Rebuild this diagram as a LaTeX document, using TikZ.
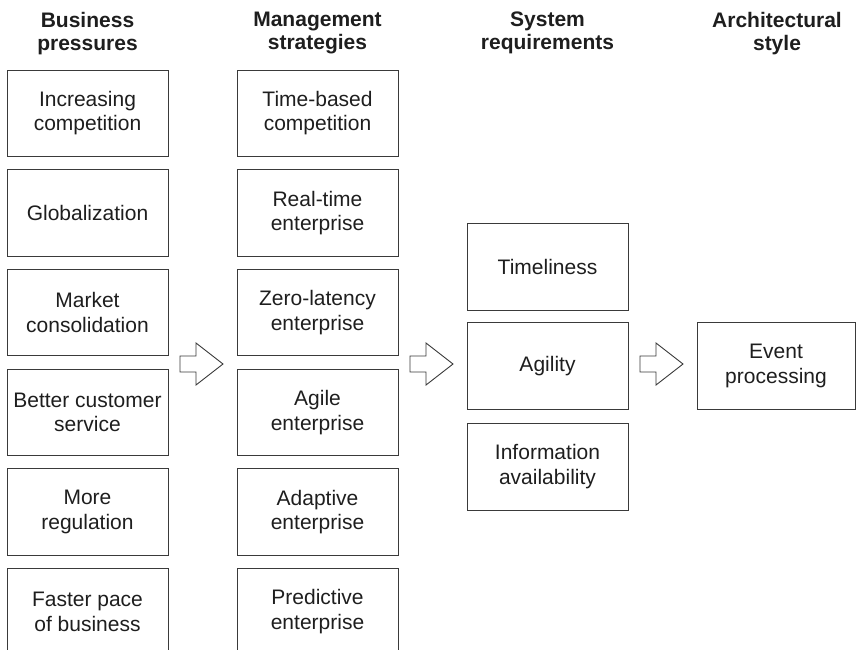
\documentclass[tikz,border=0pt]{standalone}
\usepackage{fontspec}
\setmainfont{Liberation Sans}
\definecolor{lin}{HTML}{3A3A3A}
\definecolor{txt}{HTML}{1E1E1E}
\tikzset{
  box/.style={draw=lin, line width=1pt, rectangle, minimum width=161pt, minimum height=86.5pt,
    align=center, inner sep=0pt, text=txt, font=\fontsize{21}{24.5}\selectfont},
  head/.style={anchor=north, inner sep=0pt, align=center, text=txt,
    font=\fontsize{21}{23}\selectfont\bfseries},
  barrow/.style={draw=lin, line width=0.9pt, fill=white, line join=miter}
}
\begin{document}
\begin{tikzpicture}[x=1pt,y=-1pt]
\useasboundingbox (0,0) rectangle (856,649);
\clip (0,0) rectangle (856,649);
% headers
\node[head] (h1) at (87.5,12) {Business\\pressures};
\node[head] (h2) at (317.5,12) {Management\\strategies};
\node[head] (h3) at (547.5,12) {System\\requirements};
\node[head] (h4) at (777,12) {Architectural\\style};
% column 1
\node[box] (b1) at (87.5,113.25) {Increasing\\competition};
\node[box] (b2) at (87.5,212.95) {Globalization};
\node[box] (b3) at (87.5,312.65) {Market\\consolidation};
\node[box] (b4) at (87.5,412.35) {Better customer\\service};
\node[box] (b5) at (87.5,512.05) {More\\regulation};
\node[box] (b6) at (87.5,611.75) {Faster pace\\of business};
% column 2
\node[box] (m1) at (317.5,113.25) {Time-based\\competition};
\node[box] (m2) at (317.5,212.95) {Real-time\\enterprise};
\node[box] (m3) at (317.5,312.65) {Zero-latency\\enterprise};
\node[box] (m4) at (317.5,412.35) {Agile\\enterprise};
\node[box] (m5) at (317.5,512.05) {Adaptive\\enterprise};
\node[box] (m6) at (317.5,611.75) {Predictive\\enterprise};
% column 3
\node[box, minimum height=87pt] (s1) at (547.5,266.5) {Timeliness};
\node[box, minimum height=87pt] (s2) at (547.5,366) {Agility};
\node[box, minimum height=87pt] (s3) at (547.5,466.5) {Information\\availability};
% column 4
\node[box, minimum width=158pt] (e1) at (776,366) {Event\\processing};
% block arrows
\coordinate (a1) at (180,364);
\coordinate (a2) at (410,364);
\coordinate (a3) at (640,364);
\foreach \a in {a1,a2,a3}{
  \draw[barrow] (\a) ++(0,-8) -- ++(16,0) -- ++(0,-13) -- ++(27,21) -- ++(-27,21) -- ++(0,-13) -- ++(-16,0) -- cycle;
}
\end{tikzpicture}
\end{document}
